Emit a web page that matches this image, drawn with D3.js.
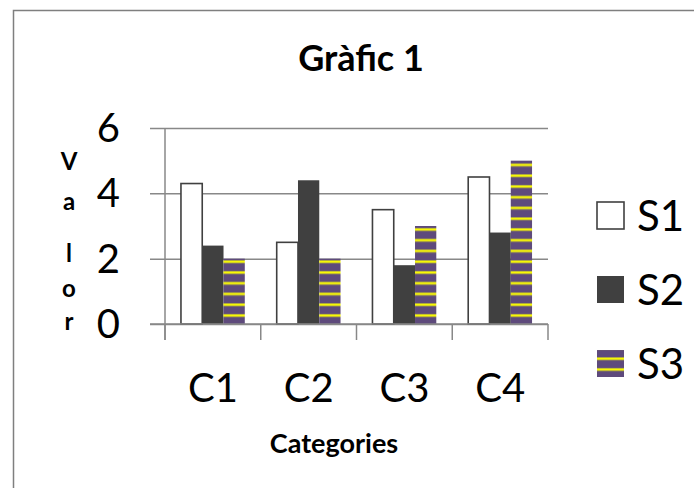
<!DOCTYPE html>
<html>
<head>
<meta charset="utf-8">
<script src="https://cdn.jsdelivr.net/npm/d3@7"></script>
<style>
  html, body { margin: 0; padding: 0; background: #fff; }
  svg { display: block; }
  text { font-family: Lato, "Open Sans", sans-serif; fill: #000; }
</style>
</head>
<body>
<svg id="chart" width="694" height="488"></svg>
<script>
// ---- data ----
const categories = ["C1", "C2", "C3", "C4"];
const seriesNames = ["S1", "S2", "S3"];
const s1 = [4.3, 2.5, 3.5, 4.5];
const s2 = [2.4, 4.4, 1.8, 2.8];
const s3 = [2.0, 2.0, 3.0, 5.0];
const yTicks = [0, 2, 4, 6];
const chartTitle = "Gràfic 1";
const xTitle = "Categories";
const yTitle = "Valor";

const seriesValues = [s1, s2, s3];
const rows = categories.map((c, i) => ({
  cat: c,
  vals: seriesNames.map((s, j) => ({ s, v: seriesValues[j][i] }))
}));

// ---- layout ----
const svg = d3.select("#chart");
const plot = { left: 165, right: 548, top: 128, bottom: 324 };
const gridColor = "#888888";
const dark = "#404040";

const x = d3.scaleBand().domain(categories).range([plot.left, plot.right]).padding(0);
const xs = d3.scaleBand().domain(seriesNames).range([0, x.bandwidth()])
  .paddingInner(0).paddingOuter(0.75);
const y = d3.scaleLinear().domain([0, 6]).range([plot.bottom, plot.top]);

// pattern
const defs = svg.append("defs");
function makePattern(id, offset) {
  const P = 10.75;
  const p = defs.append("pattern").attr("id", id)
    .attr("patternUnits", "userSpaceOnUse")
    .attr("x", 0).attr("y", offset).attr("width", 8).attr("height", P);
  p.append("rect").attr("width", 8).attr("height", P).attr("fill", "#5E4A7C");
  p.append("rect").attr("y", 0).attr("width", 8).attr("height", 3.2).attr("fill", "#B9B43A");
  p.append("rect").attr("y", 0.9).attr("width", 8).attr("height", 1.4).attr("fill", "#FFFF00");
}
makePattern("stripes", 163.4);
makePattern("stripesLegend", 348.4);

const fills = { S1: "#ffffff", S2: dark, S3: "url(#stripes)" };
const legendFills = { S1: "#ffffff", S2: dark, S3: "url(#stripesLegend)" };

// outer border
svg.append("rect").attr("x", 13.5).attr("y", 10.5).attr("width", 700).attr("height", 500)
  .attr("fill", "none").attr("stroke", "#7f7f7f").attr("stroke-width", 1.5);

// gridlines via axis
const yAxis = d3.axisLeft(y).tickValues(yTicks).tickSize(-(plot.right - plot.left)).tickFormat("");
const gy = svg.append("g").attr("transform", `translate(${plot.left},0)`).call(yAxis);
gy.select(".domain").remove();
gy.selectAll(".tick line").attr("stroke", gridColor).attr("stroke-width", 1.5)
  .attr("x1", plot.right - plot.left).attr("x2", -15);

// tick labels
svg.append("g").selectAll("text").data(yTicks).join("text")
  .attr("x", 120).attr("y", d => y(d) + 14)
  .attr("text-anchor", "end").attr("font-size", 40).text(d => d);

// bars
const groups = svg.append("g").selectAll("g").data(rows).join("g")
  .attr("transform", d => `translate(${x(d.cat)},0)`);
groups.selectAll("rect").data(d => d.vals).join("rect")
  .attr("x", d => xs(d.s))
  .attr("y", d => y(d.v))
  .attr("width", xs.bandwidth())
  .attr("height", d => y(0) - y(d.v))
  .attr("fill", d => fills[d.s])
  .attr("stroke", d => d.s === "S1" ? dark : "none")
  .attr("stroke-width", 1.6);

// x axis line and ticks
svg.append("line").attr("x1", plot.left).attr("x2", plot.left)
  .attr("y1", plot.top).attr("y2", plot.bottom + 16)
  .attr("stroke", gridColor).attr("stroke-width", 1.5);
const xAxis = d3.axisBottom(x).tickSize(16).tickFormat("");
const gx = svg.append("g").attr("transform", `translate(0,${plot.bottom})`).call(xAxis);
gx.select(".domain").remove();
gx.selectAll(".tick").remove();
const boundaries = categories.map(c => x(c)).concat([x(categories[categories.length - 1]) + x.bandwidth()]);
gx.selectAll("line.b").data(boundaries).join("line").attr("class", "b")
  .attr("x1", d => d).attr("x2", d => d).attr("y1", 0).attr("y2", 16)
  .attr("stroke", gridColor).attr("stroke-width", 1.5);
svg.append("line").attr("x1", 150).attr("x2", plot.right)
  .attr("y1", plot.bottom).attr("y2", plot.bottom)
  .attr("stroke", gridColor).attr("stroke-width", 1.5);

// category labels
svg.append("g").selectAll("text").data(categories).join("text")
  .attr("x", d => x(d) + x.bandwidth() / 2).attr("y", 402)
  .attr("text-anchor", "middle").attr("font-size", 40).text(d => d);

// titles
svg.append("text").attr("x", 361).attr("y", 71).attr("text-anchor", "middle")
  .attr("font-size", 36).attr("font-weight", "bold").text(chartTitle);
svg.append("text").attr("x", 334).attr("y", 453).attr("text-anchor", "middle")
  .attr("font-size", 27).attr("font-weight", "bold").text(xTitle);
const yLetterBase = [170, 210, 262, 297, 330];
svg.append("g").selectAll("text").data(yTitle.split("")).join("text")
  .attr("x", 69).attr("y", (d, i) => yLetterBase[i])
  .attr("text-anchor", "middle").attr("font-size", 24).attr("font-weight", "bold")
  .text(d => d);

// legend
const legendY = d3.scalePoint().domain(seriesNames).range([215.5, 363.5]);
const lg = svg.append("g").selectAll("g").data(seriesNames).join("g")
  .attr("transform", d => `translate(597,${legendY(d)})`);
lg.append("rect").attr("x", 0).attr("y", -13.5).attr("width", 27).attr("height", 27)
  .attr("fill", d => legendFills[d])
  .attr("stroke", d => d === "S1" ? dark : "none").attr("stroke-width", 1.6);
lg.append("text").attr("x", 40).attr("y", 15).attr("font-size", 42).text(d => d);
</script>
</body>
</html>
